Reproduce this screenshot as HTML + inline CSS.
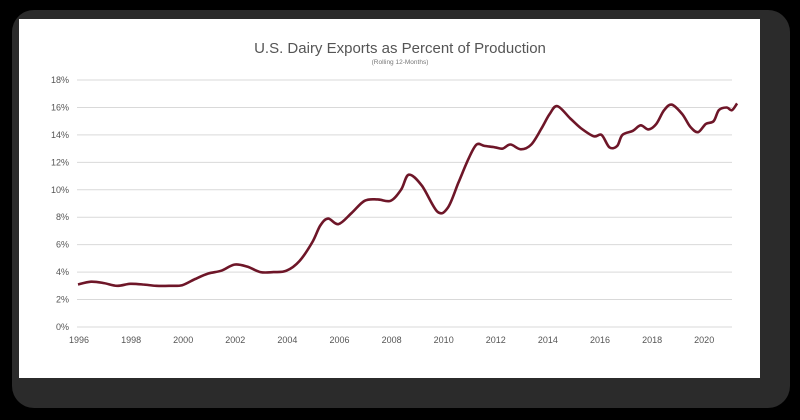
<!DOCTYPE html>
<html><head><meta charset="utf-8"><style>
html,body{margin:0;padding:0;background:#000;width:800px;height:420px;overflow:hidden}
svg{display:block}
text{font-family:"Liberation Sans",sans-serif}
</style></head><body>
<svg id="chart" width="800" height="420">
<rect x="12" y="10" width="778" height="398" rx="22" fill="#2b2b2b"/>
<rect x="19" y="19" width="741" height="359" fill="#ffffff"/>
<text x="400" y="53" text-anchor="middle" font-size="15" fill="#555">U.S. Dairy Exports as Percent of Production</text>
<text x="400" y="64" text-anchor="middle" font-size="6.5" fill="#777">(Rolling 12-Months)</text>
<g id="grid"></g><g id="yt"></g><g id="xt"></g><g id="series"></g>
</svg>
<script>
const yTicks=[0,2,4,6,8,10,12,14,16,18];
const xTicks=[1996,1998,2000,2002,2004,2006,2008,2010,2012,2014,2016,2018,2020];
const years=[1996,1996.5,1997,1997.5,1998,1998.5,1999,1999.5,2000,2000.5,2001,2001.5,2002,2002.5,2003,2003.5,2004,2004.5,2005,2005.3,2005.6,2006,2006.5,2007,2007.5,2008,2008.4,2008.7,2009.2,2009.8,2010.2,2010.6,2011,2011.3,2011.6,2012,2012.3,2012.6,2013,2013.4,2013.8,2014.1,2014.4,2014.9,2015.3,2015.8,2016.1,2016.4,2016.7,2016.9,2017.3,2017.6,2017.9,2018.2,2018.5,2018.8,2019.2,2019.5,2019.8,2020.1,2020.4,2020.6,2020.9,2021.1,2021.3];
const values=[3.1,3.3,3.2,3.0,3.15,3.1,3.0,3.0,3.05,3.5,3.9,4.1,4.55,4.4,4.0,4.0,4.1,4.8,6.2,7.4,7.9,7.5,8.3,9.2,9.3,9.2,10.0,11.1,10.3,8.4,8.7,10.5,12.3,13.3,13.2,13.1,13.0,13.3,12.95,13.3,14.5,15.5,16.1,15.2,14.5,13.9,14.0,13.1,13.2,14.0,14.3,14.7,14.4,14.8,15.8,16.2,15.5,14.6,14.2,14.8,15.0,15.8,16.0,15.8,16.3];
const NS='http://www.w3.org/2000/svg';
const X=y=>78+(y-1996)*26.05;
const Y=v=>327-v*13.72;
function mk(t,a,p){const e=document.createElementNS(NS,t);for(const k in a)e.setAttribute(k,a[k]);p.appendChild(e);return e;}
const g=document.getElementById('grid'),yt=document.getElementById('yt'),xt=document.getElementById('xt'),s=document.getElementById('series');
yTicks.forEach(v=>{
  const l=mk('line',{x1:77,x2:732,y1:Y(v),y2:Y(v),stroke:'#d9d9d9','stroke-width':1},g);
  
  
  const t=mk('text',{x:69,y:Y(v)+3,'text-anchor':'end','font-size':9,fill:'#555'},yt);
  t.textContent=v+'%';
  
  
});
xTicks.forEach(v=>{
  const t=mk('text',{x:X(v)+1,y:343,'text-anchor':'middle','font-size':9,fill:'#555'},xt);
  t.textContent=v;
  
  
});
const pts=years.map((y,i)=>[X(y),Y(values[i])]);
let d='M'+pts[0][0].toFixed(1)+','+pts[0][1].toFixed(1);
for(let i=0;i<pts.length-1;i++){
  const p0=pts[Math.max(0,i-1)],p1=pts[i],p2=pts[i+1],p3=pts[Math.min(pts.length-1,i+2)];
  const c1=[p1[0]+(p2[0]-p0[0])/6,p1[1]+(p2[1]-p0[1])/6];
  const c2=[p2[0]-(p3[0]-p1[0])/6,p2[1]-(p3[1]-p1[1])/6];
  d+=' C'+c1.map(n=>n.toFixed(1)).join(',')+' '+c2.map(n=>n.toFixed(1)).join(',')+' '+p2.map(n=>n.toFixed(1)).join(',');
}
const p=mk('path',{d:d,fill:'none',stroke:'#6e1628','stroke-width':2.6,'stroke-linejoin':'round'},s);


</script>
</body></html>
